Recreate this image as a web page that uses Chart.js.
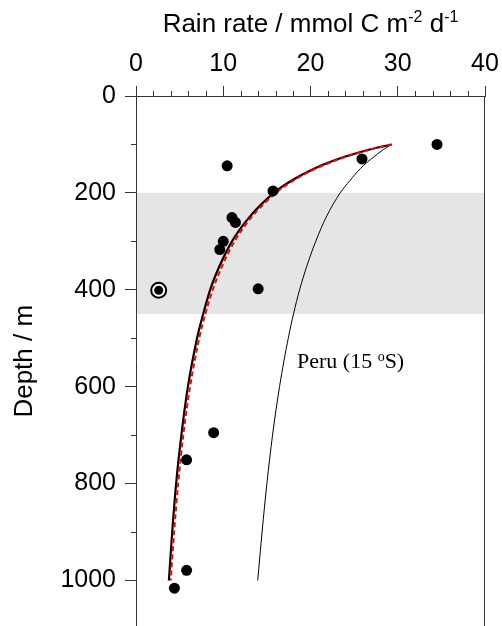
<!DOCTYPE html>
<html><head><meta charset="utf-8">
<script src="https://cdn.jsdelivr.net/npm/chart.js@4/dist/chart.umd.min.js"></script>
<style>html,body{margin:0;padding:0;background:#fff;overflow:hidden;width:502px;height:626px;}#wrap{position:fixed;left:0;top:0;width:502px;height:626px;overflow:hidden;}canvas{display:block;}</style>
</head><body><div id="wrap"><canvas id="c" width="502" height="636" style="width:502px;height:636px"></canvas></div>
<script>
// Observations (rain rate, depth)
const obsRate  = [34.5, 25.9, 10.45, 15.7, 11.0, 11.4, 10.0, 9.6, 14.0, 8.9, 5.8, 5.8, 4.4];
const obsDepth = [100, 130, 144, 196, 251, 261, 300, 317, 398, 695, 751, 979, 1016];
const circledRate  = [2.6];
const circledDepth = [401];
// Curves
const curveDepth = [100,110,125,150,175,200,250,300,350,400,450,500,600,700,800,900,1000];
const fitRate    = [29.3,26.9,24.0,20.4,17.8,15.8,13.0,11.0,9.6,8.5,7.7,7.0,5.95,5.2,4.6,4.15,3.77];
const fitRateRed = [29.3,27.0,24.15,20.6,18.0,16.05,13.25,11.3,9.9,8.8,7.95,7.25,6.2,5.42,4.83,4.37,3.98];
const peruRate   = [29.3,28.4,27.3,25.7,24.5,23.4,21.8,20.6,19.6,18.75,18.05,17.45,16.45,15.65,15.0,14.45,13.95];
// Axes
const xTicks = [0,10,20,30,40];
const yTicks = [0,200,400,600,800,1000];
const bandDepth = [200, 450];
const peruLabel = {x: 18.45, y: 561, text: ["Peru (15 ", "o", "S)"]};

const pts = (xs, ys) => xs.map((v, i) => ({x: v, y: ys[i]}));
const SANS = '"Liberation Sans", Arial, sans-serif';
const SERIF = '"Liberation Serif", "Times New Roman", serif';
const AXC = '#333';

const decor = {
  id: 'decor',
  beforeDatasetsDraw(chart) {
    const {ctx, chartArea: a, scales: {x, y}} = chart;
    ctx.save();
    ctx.fillStyle = '#e5e5e5';
    const t = y.getPixelForValue(bandDepth[0]), b = y.getPixelForValue(bandDepth[1]);
    ctx.fillRect(a.left + 1, t, a.right - a.left - 1.5, b - t);
    ctx.restore();
  },
  afterDraw(chart) {
    const {ctx, chartArea: a, scales: {x, y}} = chart;
    ctx.save();
    ctx.strokeStyle = AXC; ctx.lineWidth = 1;
    // right border
    ctx.beginPath();
    ctx.moveTo(Math.round(a.right) - 0.5, a.top); ctx.lineTo(Math.round(a.right) - 0.5, a.bottom);
    ctx.stroke();
    // minor ticks
    ctx.beginPath();
    for (let v = 2; v < 40; v += 2) {
      if (v % 10 === 0) continue;
      const px = Math.round(x.getPixelForValue(v)) + 0.5;
      ctx.moveTo(px, a.top); ctx.lineTo(px, a.top - 5);
    }
    for (let v = 100; v <= 1100; v += 200) {
      const py = Math.round(y.getPixelForValue(v)) + 0.5;
      if (py > a.bottom) continue;
      ctx.moveTo(a.left, py); ctx.lineTo(a.left - 5, py);
    }
    ctx.stroke();
    // top title with superscripts
    const parts = [
      ["Rain rate / mmol C m", 26, 0], ["-2", 16, 10], [" d", 26, 0], ["-1", 16, 10]
    ];
    let w = 0;
    parts.forEach(p => { ctx.font = p[1] + 'px ' + SANS; w += ctx.measureText(p[0]).width; });
    let cx = (a.left + a.right) / 2 - w / 2;
    ctx.fillStyle = '#000'; ctx.textBaseline = 'alphabetic'; ctx.textAlign = 'left';
    parts.forEach(p => { ctx.font = p[1] + 'px ' + SANS; ctx.fillText(p[0], cx, 32 - p[2]); cx += ctx.measureText(p[0]).width; });
    // Peru label
    let lx = x.getPixelForValue(peruLabel.x), ly = y.getPixelForValue(peruLabel.y);
    const lp = [[peruLabel.text[0], 22, 0], [peruLabel.text[1], 14, 7], [peruLabel.text[2], 22, 0]];
    lp.forEach(p => { ctx.font = p[1] + 'px ' + SERIF; ctx.fillText(p[0], lx, ly - p[2]); lx += ctx.measureText(p[0]).width; });
    ctx.restore();
  }
};

new Chart(document.getElementById('c'), {
  type: 'scatter',
  data: {
    datasets: [
      {data: pts(obsRate, obsDepth), showLine: false, pointRadius: 5.5, pointBackgroundColor: '#000', pointBorderWidth: 0, order: 0},
      {data: pts(circledRate, circledDepth), showLine: false, pointRadius: 4.5, pointBackgroundColor: '#000', pointBorderWidth: 0, order: 0},
      {data: pts(circledRate, circledDepth), showLine: false, pointRadius: 7.5, pointBackgroundColor: '#fff', pointBorderColor: '#000', pointBorderWidth: 2, order: 1},
      {data: pts(fitRateRed, curveDepth), showLine: true, pointRadius: 0, borderColor: '#ff0000', borderWidth: 2, borderDash: [5, 3], cubicInterpolationMode: 'monotone', order: 2},
      {data: pts(fitRate, curveDepth), showLine: true, pointRadius: 0, borderColor: '#000', borderWidth: 2.2, cubicInterpolationMode: 'monotone', order: 3},
      {data: pts(peruRate, curveDepth), showLine: true, pointRadius: 0, borderColor: '#000', borderWidth: 1, cubicInterpolationMode: 'monotone', order: 4}
    ]
  },
  options: {
    responsive: false, maintainAspectRatio: false, animation: false, devicePixelRatio: 1,
    layout: {padding: {left: 0, top: 0, right: 17, bottom: 0}},
    plugins: {legend: {display: false}, tooltip: {enabled: false}},
    scales: {
      x: {
        type: 'linear', position: 'top', min: 0, max: 40,
        afterFit(s) { s.height = 96; s.paddingLeft = 0; s.paddingRight = 0; },
        afterBuildTicks(s) { s.ticks = xTicks.map(v => ({value: v})); },
        ticks: {font: {family: SANS, size: 25}, color: '#000', padding: 7, maxRotation: 0, callback: v => String(v)},
        grid: {drawOnChartArea: false, tickLength: 10, color: AXC, lineWidth: 1},
        border: {display: true, color: AXC, width: 1}
      },
      y: {
        type: 'linear', reverse: true, min: 0, max: 1095,
        afterFit(s) { s.width = 136; s.paddingTop = 0; s.paddingBottom = 0; },
        afterBuildTicks(s) { s.ticks = yTicks.map(v => ({value: v})); },
        ticks: {font: {family: SANS, size: 25}, color: '#000', padding: 9, callback: v => String(v)},
        grid: {drawOnChartArea: false, tickLength: 11, color: AXC, lineWidth: 1},
        border: {display: true, color: AXC, width: 1},
        title: {display: true, text: 'Depth / m', font: {family: SANS, size: 26}, color: '#000', padding: {top: 9, bottom: 0}}
      }
    }
  },
  plugins: [decor]
});
</script></body></html>
